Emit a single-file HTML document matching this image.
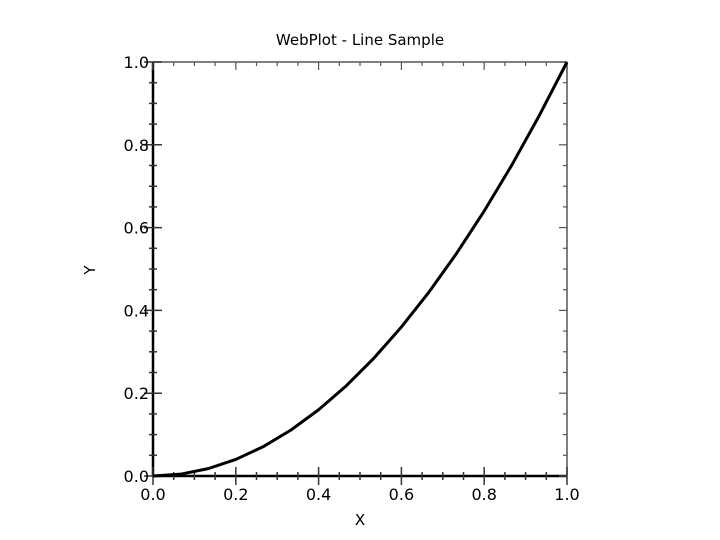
<!DOCTYPE html>
<html><head><meta charset="utf-8"><style>
html,body{margin:0;padding:0;background:#fff;}
svg{display:block;font-family:"DejaVu Sans","Liberation Sans",sans-serif;}
</style></head><body>
<svg id="c" width="720" height="540">
<text x="360" y="45" text-anchor="middle" font-size="15">WebPlot - Line Sample</text>
<text x="360" y="525" text-anchor="middle" font-size="15">X</text>
<text x="95" y="270" text-anchor="middle" font-size="15" transform="rotate(-90 95 270)">Y</text>
<g id="axes"></g>
<polyline id="line" fill="none" stroke="#000" stroke-width="3" stroke-linejoin="round"></polyline>
</svg>
<script>
const xValues=[0,0.0667,0.1333,0.2,0.2667,0.3333,0.4,0.4667,0.5333,0.6,0.6667,0.7333,0.8,0.8667,0.9333,1];
const yValues=[0,0.0044,0.0178,0.04,0.0711,0.1111,0.16,0.2178,0.2844,0.36,0.4444,0.5378,0.64,0.7511,0.8711,1];
const tickLabels=["0.0","0.2","0.4","0.6","0.8","1.0"];
const X0=153,X1=567,Y0=476,Y1=62;
const sx=v=>X0+(X1-X0)*v, sy=v=>Y0-(Y0-Y1)*v;
const NS="http://www.w3.org/2000/svg";
const ax=document.getElementById('axes');
function ln(x1,y1,x2,y2,w,c){const l=document.createElementNS(NS,'line');l.setAttribute('x1',x1);l.setAttribute('y1',y1);l.setAttribute('x2',x2);l.setAttribute('y2',y2);l.setAttribute('stroke',c||'#000');l.setAttribute('stroke-width',w);ax.appendChild(l);return l;}
function tx(x,y,s,a){const t=document.createElementNS(NS,'text');t.setAttribute('x',x);t.setAttribute('y',y);t.setAttribute('font-size','16');t.setAttribute('text-anchor',a);t.textContent=s;ax.appendChild(t);return t;}
let e;
e=ln(X0,Y1,X1,Y1,1.5,'#555');


e=ln(X1,Y1,X1,Y0,1.5,'#555');


e=ln(X0,Y0,X1,Y0,2.5);


e=ln(X0,Y0,X0,Y1,2.5);


for(let i=0;i<=20;i++){
  const v=i/20,maj=i%4==0;
  const x=sx(v),y=sy(v);
  ln(x,Y0-(maj?9:4),x,Y0+(maj?9:4),1.5,'#333');
  ln(x,Y1,x,Y1+(maj?8:4),1.2,'#555');
  ln(X0-(maj?9:4),y,X0+(maj?9:4),y,1.5,'#333');
  ln(X1-(maj?8:4),y,X1,y,1.2,'#555');
}
tickLabels.forEach((s,i)=>{
  const v=i/5;
  e=tx(sx(v),Y0+24,s,'middle');
  
  
  e=tx(X0-4,sy(v)+6,s,'end');
  
  
});
document.getElementById('line').setAttribute('points',xValues.map((x,i)=>sx(x)+','+sy(yValues[i])).join(' '));
</script>
</body></html>
